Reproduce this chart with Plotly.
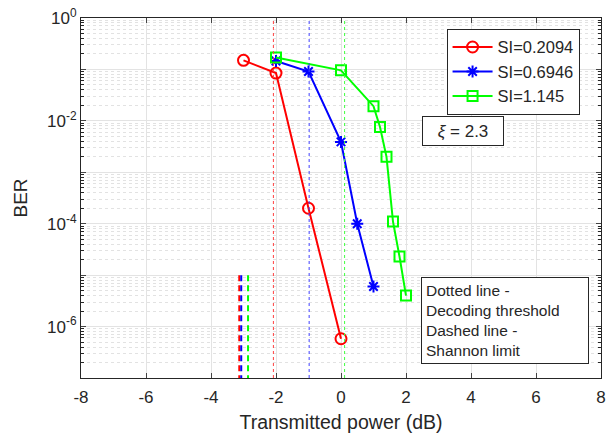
import plotly.graph_objects as go

# Data
red_x = [-3, -2, -1, 0]
red_y = [0.15, 0.085, 2.0e-4, 5.8e-7]
blue_x = [-2, -1, 0, 0.5, 1]
blue_y = [0.146, 0.091, 3.9e-3, 1.0e-4, 6.0e-6]
green_x = [-2, 0, 1, 1.2, 1.4, 1.6, 1.8, 2]
green_y = [0.17, 0.096, 0.0193, 7.6e-3, 2.0e-3, 1.1e-4, 2.3e-5, 4.0e-6]
series_names = ["SI=0.2094", "SI=0.6946", "SI=1.145"]
colors = ["#ff0000", "#0000ff", "#00ff00"]
dotted_colors = ["#ff4040", "#4040ff", "#40ff40"]

decoding_threshold = [-2.08, -0.98, 0.11]   # dotted lines
shannon_limit = [-3.13, -3.07, -2.86]       # dashed lines
shannon_y = [1e-5, 1e-7]

x_ticks = [-8, -6, -4, -2, 0, 2, 4, 6, 8]
x_ticktext = ["-8", "-6", "-4", "-2", "0", "2", "4", "6", "8"]
y_decades = [-7, -6, -5, -4, -3, -2, -1, 0]

fig = go.Figure()
fig.add_trace(go.Scatter(x=red_x, y=red_y, name=series_names[0], mode="lines+markers",
                         line=dict(color=colors[0], width=2),
                         marker=dict(symbol="circle-open", size=11, color=colors[0], line=dict(width=2))))
fig.add_trace(go.Scatter(x=blue_x, y=blue_y, name=series_names[1], mode="lines+markers",
                         line=dict(color=colors[1], width=2),
                         marker=dict(symbol="asterisk-open", size=10, color=colors[1], line=dict(width=2, color=colors[1]))))
fig.add_trace(go.Scatter(x=green_x, y=green_y, name=series_names[2], mode="lines+markers",
                         line=dict(color=colors[2], width=2),
                         marker=dict(symbol="square-open", size=10, color=colors[2], line=dict(width=2))))

for xv, c in zip(decoding_threshold, dotted_colors):
    fig.add_trace(go.Scatter(x=[xv, xv], y=[1e-7, 1], mode="lines", showlegend=False,
                             hoverinfo="skip", line=dict(color=c, width=1, dash="dot")))
for xv, c in zip(shannon_limit, colors):
    fig.add_trace(go.Scatter(x=[xv, xv], y=shannon_y, mode="lines", showlegend=False,
                             hoverinfo="skip", line=dict(color=c, width=2, dash="6px,4px")))

ytickvals = [10.0 ** d for d in y_decades]
yticktext = [("10<sup>%d</sup>" % d) if d % 2 == 0 else "" for d in y_decades]

axis_col = "#262626"
fig.update_layout(
    width=609, height=434,
    margin=dict(l=81, r=8, t=18, b=56),
    paper_bgcolor="white", plot_bgcolor="white",
    font=dict(family="Liberation Sans, Arial, sans-serif", color=axis_col, size=15),
    showlegend=True,
    legend=dict(x=0.703, y=0.97, xanchor="left", yanchor="top",
                bordercolor=axis_col, borderwidth=1, bgcolor="white",
                font=dict(size=16.5), itemwidth=40, tracegroupgap=0),
    xaxis=dict(range=[-8, 8], tickvals=x_ticks, ticktext=x_ticktext, ticks="inside", ticklen=5,
               showline=True, linecolor=axis_col, linewidth=1, mirror="ticks",
               showgrid=True, gridcolor="#e3e3e3", gridwidth=1, zeroline=False,
               automargin=False, ticklabeloverflow="allow", ticklabelstandoff=4,
               title=dict(text="Transmitted power (dB)", font=dict(size=19.5), standoff=8),
               tickfont=dict(size=17)),
    yaxis=dict(type="log", range=[-7, 0], tickvals=ytickvals, ticktext=yticktext,
               ticks="inside", ticklen=5, automargin=False, ticklabeloverflow="allow",
               showline=True, linecolor=axis_col, linewidth=1, mirror="ticks",
               showgrid=True, gridcolor="#e3e3e3", gridwidth=1, zeroline=False,
               minor=dict(dtick="D1", showgrid=True, gridcolor="#e2e2e2", griddash="dot",
                          ticks="inside", ticklen=3, tickcolor=axis_col),
               title=dict(text="BER", font=dict(size=19), standoff=14),
               tickfont=dict(size=17)),
)

fig.add_annotation(x=0.813, y=0.728, xref="paper", yref="paper",
                   text="<i>ξ</i> = 2.3", showarrow=False, font=dict(size=17),
                   bordercolor=axis_col, borderwidth=1, bgcolor="white",
                   width=78, height=26, align="center")
fig.add_annotation(x=0.653, y=0.28, xref="paper", yref="paper", xanchor="left", yanchor="top",
                   text="Dotted line -<br>Decoding threshold<br>Dashed line -<br>Shannon limit",
                   showarrow=False, font=dict(size=15.5), align="left",
                   bordercolor=axis_col, borderwidth=1, bgcolor="white", borderpad=4,
                   width=158)

fig.write_html("out.html", config={"displayModeBar": False},
               post_script="document.body.style.margin='0';")
